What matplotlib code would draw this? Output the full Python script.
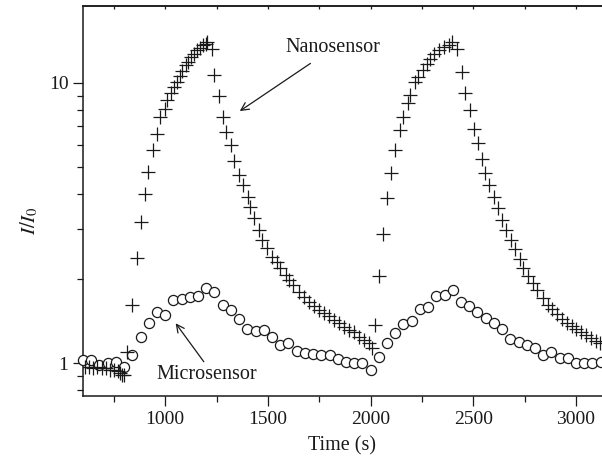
import matplotlib
matplotlib.use("Agg")
import matplotlib.pyplot as plt
from matplotlib.ticker import FixedLocator, NullFormatter, LogLocator

plt.rcParams['font.family'] = ['Liberation Serif', 'DejaVu Serif']
plt.rcParams['mathtext.fontset'] = 'stix'

# Nanosensor (crosses): time (s) and I/I0
nano_t = [610, 630, 650, 670, 690, 710, 730, 750, 770, 780, 790, 800,
          816, 840, 861, 880, 904, 918, 942, 962, 974, 999, 1010, 1026, 1042,
          1056, 1072, 1083, 1099, 1112, 1127, 1140, 1156, 1169, 1185, 1197,
          1205, 1229,
          1240, 1262, 1281, 1296, 1318, 1335, 1357, 1380, 1401, 1415, 1431,
          1456, 1472, 1496, 1521, 1542, 1561, 1586, 1601, 1623, 1650, 1674,
          1699, 1723, 1747, 1772, 1796, 1820, 1845, 1869, 1893, 1917, 1942,
          1966, 1990, 2007,
          2023, 2041, 2059, 2080, 2101, 2120, 2141, 2158, 2180, 2193, 2217,
          2233, 2255, 2274, 2290, 2310, 2331, 2355, 2380, 2396, 2420,
          2444, 2460, 2485, 2504, 2521, 2542, 2558, 2577, 2599, 2618, 2639,
          2657, 2681, 2702, 2725, 2744, 2768, 2790, 2809, 2840, 2862, 2882,
          2906, 2931, 2955, 2979, 3000, 3024, 3046, 3071, 3095, 3117]
nano_v = [0.97, 0.97, 0.96, 0.97, 0.96, 0.96, 0.95, 0.95, 0.94, 0.92, 0.91, 0.91,
          1.10, 1.61, 2.37, 3.20, 4.03, 4.82, 5.75, 6.55, 7.53, 8.10, 8.68, 9.17, 9.68,
          10.1, 10.6, 11.0, 11.6, 11.9, 12.4, 12.7, 13.1, 13.3, 13.6, 13.8,
          14.0, 13.2,
          10.7, 8.95, 7.57, 6.70, 6.00, 5.25, 4.70, 4.32, 3.92, 3.61, 3.29,
          2.99, 2.75, 2.57, 2.40, 2.30, 2.18, 2.06, 1.98, 1.90, 1.80, 1.73,
          1.66, 1.60, 1.55, 1.51, 1.47, 1.43, 1.39, 1.35, 1.31, 1.29, 1.24,
          1.21, 1.18, 1.13,
          1.37, 2.04, 2.90, 3.87, 4.78, 5.75, 6.78, 7.53, 8.45, 9.04, 10.1,
          10.5, 11.1, 11.7, 12.2, 12.7, 13.1, 13.4, 13.6, 14.0, 13.2,
          10.9, 9.17, 8.00, 6.87, 6.10, 5.36, 4.77, 4.32, 3.92, 3.57, 3.25,
          2.99, 2.76, 2.56, 2.36, 2.19, 2.05, 1.93, 1.82, 1.71, 1.62, 1.56,
          1.50, 1.44, 1.39, 1.36, 1.32, 1.29, 1.26, 1.23, 1.20, 1.18]

# Microsensor (circles), sampled every 40 s
micro_t = list(range(600, 3121, 40))
micro_v = [1.03, 1.03, 0.986, 1.00, 1.013, 0.973, 1.07, 1.24, 1.39, 1.52,
           1.49, 1.68, 1.70, 1.72, 1.74, 1.85, 1.79, 1.62, 1.55, 1.44,
           1.32, 1.30, 1.31, 1.24, 1.16, 1.18, 1.11, 1.09, 1.08, 1.07,
           1.07, 1.035, 1.013, 1.00, 1.00, 0.946, 1.055, 1.18, 1.285, 1.38,
           1.415, 1.56, 1.59, 1.74, 1.75, 1.82, 1.66, 1.60, 1.53, 1.45,
           1.39, 1.325, 1.22, 1.19, 1.16, 1.13, 1.07, 1.10, 1.047, 1.047,
           1.005, 1.00, 1.00, 1.013]

x_major = [1000, 1500, 2000, 2500, 3000]
x_minor = [750, 1250, 1750, 2250, 2750]
y_major = [1, 10]
y_labels = ["1", "10"]

ink = "#1a1a1a"

fig = plt.figure(figsize=(6.02, 4.72), dpi=100)
ax = fig.add_axes([0.1379, 0.161, 0.862, 0.826])

ax.plot(micro_t, micro_v, 'o', ms=7.3, mfc='white', mec=ink, mew=0.9,
        linestyle='none', clip_on=False, zorder=3)
ax.plot(nano_t, nano_v, '+', ms=9.5, mec=ink, mew=0.9,
        linestyle='none', zorder=4)

ax.set_yscale('log')
ax.set_xlim(600, 3126)
ax.set_ylim(0.7646, 18.77)

ax.xaxis.set_major_locator(FixedLocator(x_major))
ax.xaxis.set_minor_locator(FixedLocator(x_minor))
ax.yaxis.set_major_locator(FixedLocator(y_major))
ax.set_yticklabels(y_labels)
ax.yaxis.set_minor_locator(LogLocator(base=10, subs=range(2, 10)))
ax.yaxis.set_minor_formatter(NullFormatter())

ax.tick_params(axis='both', which='major', direction='out', length=7.5,
               width=0.9, color=ink, labelsize=14, labelcolor=ink, pad=3)
ax.tick_params(axis='both', which='minor', direction='out', length=4.5,
               width=0.9, color=ink)

# short marks on the top frame
top = ax.secondary_xaxis('top')
top.set_xticks(x_major + x_minor)
top.tick_params(direction='in', length=2.5, width=0.9, color=ink,
                labeltop=False)
top.spines['top'].set_linewidth(1.1)
top.spines['top'].set_color(ink)

for side in ['left', 'bottom', 'top']:
    ax.spines[side].set_linewidth(1.1)
    ax.spines[side].set_color(ink)
ax.spines['right'].set_visible(False)

ax.set_xlabel("Time (s)", fontsize=14.5, color=ink, labelpad=6)
ax.set_ylabel(r"$I/I_0$", fontsize=15, color=ink)
ax.yaxis.set_label_coords(-0.082, 0.45)

arrow = dict(arrowstyle='->', color=ink, lw=0.9, shrinkA=0, shrinkB=0,
             mutation_scale=14)
ax.annotate('', xy=(1363, 7.93), xytext=(1707, 11.73), arrowprops=arrow)
ax.text(1814, 13.4, "Nanosensor", fontsize=14.5, color=ink,
        ha='center', va='center')
ax.annotate('', xy=(1051, 1.389), xytext=(1188, 1.013), arrowprops=arrow)
ax.text(1200, 0.909, "Microsensor", fontsize=14.5, color=ink,
        ha='center', va='center')

fig.savefig("out.png", dpi=100)
